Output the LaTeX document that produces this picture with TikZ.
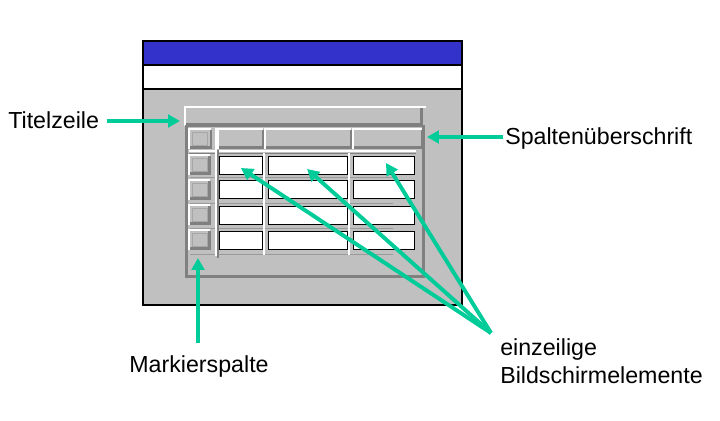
\documentclass[tikz,border=0pt]{standalone}
\usepackage{fontspec}
\setmainfont{Liberation Sans}
\usepackage{xcolor}
\usepackage{tikz}
\usetikzlibrary{arrows.meta,calc}
\definecolor{winblue}{RGB}{51,51,204}
\definecolor{silver}{RGB}{192,192,192}
\definecolor{darkedge}{RGB}{128,128,128}
\definecolor{pointer}{RGB}{0,204,153}

\begin{document}
\begin{tikzpicture}[x=0.025cm,y=-0.025cm,
    lbl/.style={inner sep=0pt,font=\fontsize{16.5}{20}\selectfont},
    arr/.style={pointer,line width=2.8pt,-{Triangle[length=8.5pt,width=9pt]}},
    hi/.style={white,line width=1.4pt},
    lo/.style={darkedge,line width=2.1pt},
    cell/.style={fill=white,draw=black,line width=0.7pt}]
    \useasboundingbox (0,0) rectangle (720,420);

    % Window
    \fill[silver] (143,41) rectangle (462,305);
    \fill[winblue] (143,41) rectangle (462,65);
    \fill[white] (143,65) rectangle (462,89);
    \draw[line width=0.8pt] (143,65) -- (462,65) (143,89) -- (462,89);
    \draw[line width=1.4pt] (143,41) rectangle (462,305);

    % Title row
    \draw[lo] (186,124.5) -- (421.5,124.5) -- (421.5,108);
    \draw[hi] (185,126) -- (185,107) -- (426,107);

    % Table frame
    \draw[lo] (186.5,126) rectangle (423.5,276.5);

    % Grid lines
    \draw[hi,line width=0.8pt] (189,151) -- (416,151);
    \draw[darkedge,line width=0.7pt] (189,153) -- (416,153);
    \foreach \y in {177,203,228,254}
        \draw[darkedge!80,line width=0.7pt] (190,\y) -- (393,\y);
    \draw[hi] (216,128) -- (216,256);
    \draw[darkedge,line width=0.8pt] (218,150) -- (218,258);
    \foreach \x in {264,349}
        \draw[hi] (\x,153) -- (\x,255);

    % Header cells
    \foreach \xa/\xb in {189/211,218/263,265/351,353/422} {
        \draw[lo] ({\xa+1},147.5) -- (\xb,147.5) -- (\xb,130);
        \draw[hi] (\xa,149) -- (\xa,129) -- (\xb,129);
    }
    \draw[darkedge!70,line width=0.5pt] (192,132) rectangle (207,145);

    % Marker column
    \foreach \ya/\yb in {155/175,180/200,205/225,230/250} {
        \draw[darkedge!70,line width=0.5pt] (192,{\ya+3}) rectangle (207,{\yb-4});
        \draw[lo] (190,{\yb-1.5}) -- (209.5,{\yb-1.5}) -- (209.5,{\ya+1});
        \draw[hi] (189,\yb) -- (189,\ya) -- (210,\ya);
    }

    % Cells
    \foreach \ya/\yb in {156/174,180/198,206/224,231/249}
        \foreach \xa/\xb in {219/262,268/347,353/414}
            \draw[cell] (\xa,\ya) rectangle (\xb,\yb);

    % Labels
    \node[lbl,anchor=base west] (titel) at (8,128) {Titelzeile};
    \node[lbl,anchor=base west] (spalte) at (505,144) {Spaltenüberschrift};
    \node[lbl,anchor=base] (markier) at (199,372) {Markierspalte};
    \node[lbl,anchor=north west,align=left] (einz) at (500,338) {einzeilige\\Bildschirmelemente};

    % Pointers
    \coordinate (titelTip) at (180,121);
    \coordinate (spalteTip) at (427,137);
    \coordinate (markTip) at (198,258);
    \coordinate (tipA) at (241,168);
    \coordinate (tipB) at (307,169);
    \coordinate (tipC) at (386,163);
    \coordinate (fan) at ($(einz.north west)+(-9,-5)$);
    \draw[arr,shorten <=5.7pt] (titel.east |- titelTip) -- (titelTip);
    \draw[arr,shorten <=1.4pt] (spalte.west |- spalteTip) -- (spalteTip);
    \draw[arr,shorten <=8.5pt] (markTip |- markier.north) -- (markTip);
    \foreach \t in {tipA,tipB,tipC}
        \draw[arr] (fan) -- (\t);
\end{tikzpicture}
\end{document}
